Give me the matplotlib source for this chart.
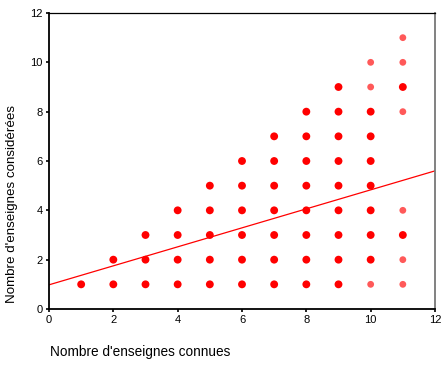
import matplotlib
matplotlib.use('Agg')
import matplotlib.pyplot as plt
import numpy as np

plt.rcParams['font.family'] = ['Liberation Sans', 'DejaVu Sans']

# combinaisons observées (connues, considérées) ; dense = plusieurs répondants superposés
connues = [1,
           2, 2,
           3, 3, 3,
           4, 4, 4, 4,
           5, 5, 5, 5, 5,
           6, 6, 6, 6, 6, 6,
           7, 7, 7, 7, 7, 7, 7,
           8, 8, 8, 8, 8, 8, 8, 8,
           9, 9, 9, 9, 9, 9, 9, 9, 9,
           10, 10, 10, 10, 10, 10, 10, 10, 10, 10,
           11, 11, 11, 11, 11, 11, 11, 11]
considerees = [1,
               1, 2,
               1, 2, 3,
               1, 2, 3, 4,
               1, 2, 3, 4, 5,
               1, 2, 3, 4, 5, 6,
               1, 2, 3, 4, 5, 6, 7,
               1, 2, 3, 4, 5, 6, 7, 8,
               1, 2, 3, 4, 5, 6, 7, 8, 9,
               1, 2, 3, 4, 5, 6, 7, 8, 9, 10,
               1, 2, 3, 4, 8, 9, 10, 11]
dense = [1,
         1, 1,
         1, 1, 1,
         1, 1, 1, 1,
         1, 1, 1, 1, 1,
         1, 1, 1, 1, 1, 1,
         1, 1, 1, 1, 1, 1, 1,
         1, 1, 1, 1, 1, 1, 1, 1,
         1, 1, 1, 1, 1, 1, 1, 1, 1,
         0, 1, 1, 1, 1, 1, 1, 1, 0, 0,
         0, 0, 1, 0, 0, 1, 0, 0]

# droite de régression
intercept = 0.98
pente = 0.385

x = np.array(connues)
y = np.array(considerees)
d = np.array(dense, dtype=bool)

fig = plt.figure(figsize=(4.41, 3.65), dpi=100)
ax = fig.add_axes([49/441, 56/365, 386/441, 296/365])

ax.scatter(x[d], y[d], s=32, color='#ff0000', edgecolors='none', zorder=3)
ax.scatter(x[~d], y[~d], s=24, color='#ff0000', alpha=0.65, edgecolors='none', zorder=3)

xl = np.array([0, 12])
ax.plot(xl, intercept + pente * xl, color='#ff0000', lw=0.9, zorder=2)

ax.set_xlim(0, 12)
ax.set_ylim(0, 12)
ax.set_xticks(range(0, 13, 2))
ax.set_yticks(range(0, 13, 2))
ax.tick_params(labelsize=8, length=2.5, width=1.2, pad=2, colors='black')

ax.spines['left'].set_linewidth(1.3)
ax.spines['bottom'].set_linewidth(1.3)
ax.spines['top'].set_linewidth(0.9)
ax.spines['right'].set_linewidth(1.3)
ax.spines['right'].set_color('#777777')

fig.text(50/441, 1 - 352/365, "Nombre d'enseignes connues", fontsize=9.8,
         ha='left', va='center')
fig.text(12/441, 1 - 204/365, "Nombre d'enseignes considérées", fontsize=9.6,
         ha='center', va='center', rotation=90)

plt.savefig('out.png', dpi=100)
plt.close(fig)
